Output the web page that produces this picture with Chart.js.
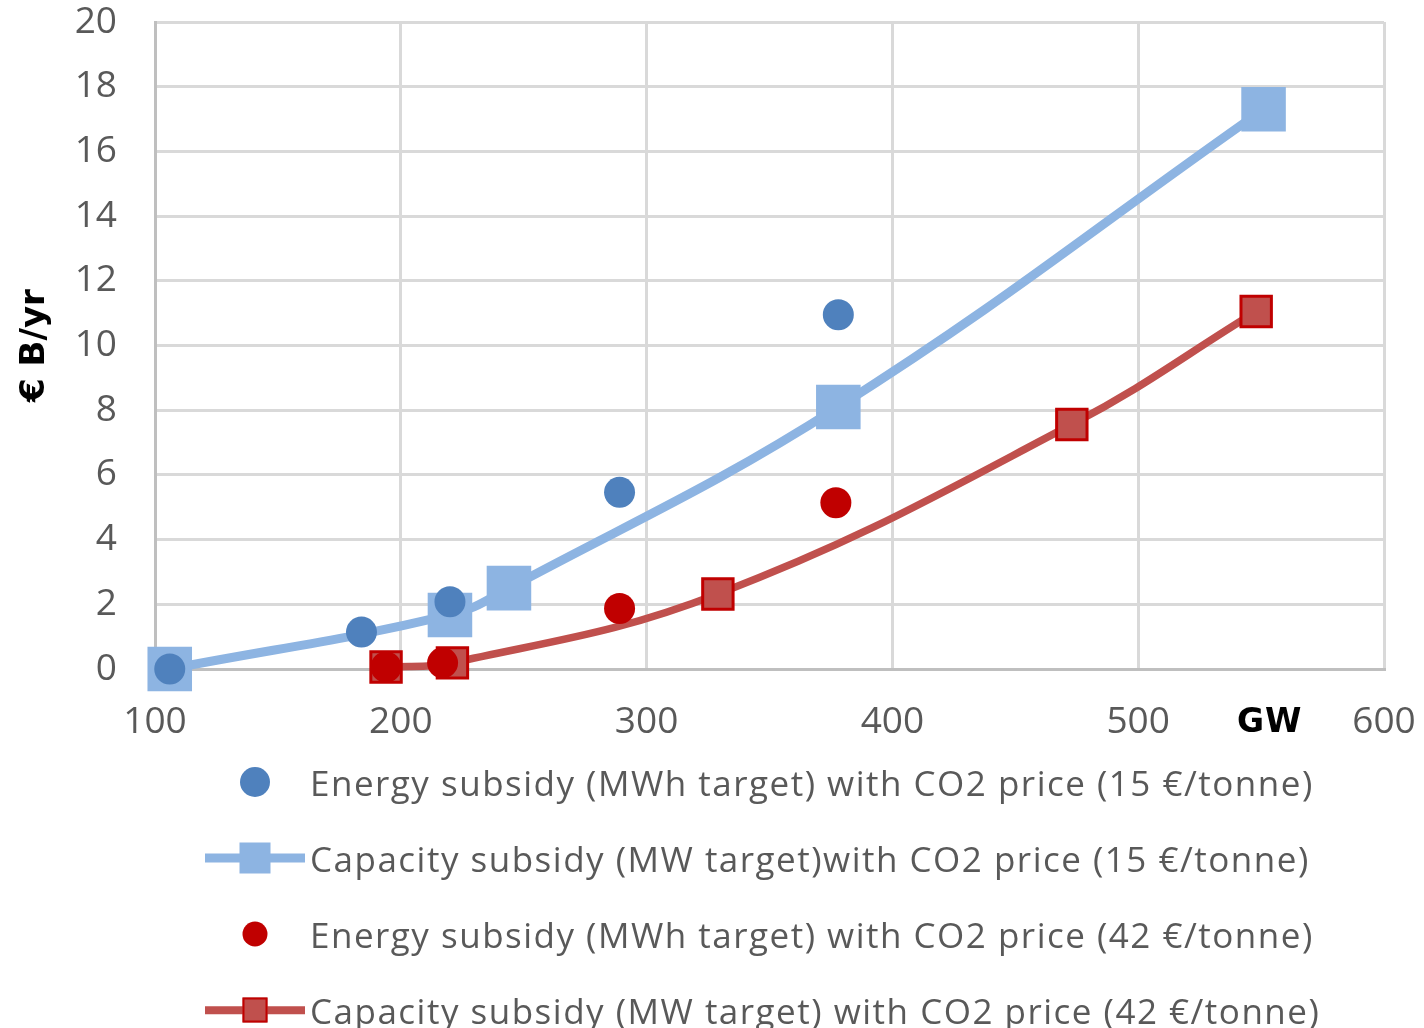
<!DOCTYPE html>
<html>
<head>
<meta charset="utf-8">
<script src="https://cdn.jsdelivr.net/npm/chart.js@4.4.0/dist/chart.umd.min.js"></script>
<style>
  html, body { margin: 0; padding: 0; background: #ffffff; }
  #page { position: relative; width: 1424px; height: 1028px; overflow: hidden; background: #fff; }
  #chartBox { position: absolute; left: 0; top: 0; width: 1424px; height: 745px; }
  #unit { position: absolute; left: 1237px; top: 701px; font: bold 33px "DejaVu Sans", sans-serif;
          letter-spacing: 1px; color: #000; }
  #legend { position: absolute; left: 0; top: 744px; width: 1424px; }
  .row { position: relative; height: 76px; }
  .mark { position: absolute; left: 205px; top: 0; width: 100px; height: 76px; }
  .mark .ln { position: absolute; left: 0; width: 100px; top: 50%; transform: translateY(-50%); }
  .mark .pt { position: absolute; left: 50%; top: 50%; transform: translate(-50%, -50%); box-sizing: border-box; }
  .txt { position: absolute; left: 310px; top: 50%; transform: translateY(-50%);
         font: 35px "Open Sans", sans-serif; color: #595959; white-space: nowrap; letter-spacing: 1.5px; }
</style>
</head>
<body>
<div id="page">
  <div id="chartBox"><canvas id="c" width="1424" height="745"></canvas></div>
  <div id="unit">GW</div>
  <div id="legend"></div>
</div>
<script>
// Installed capacity (GW) and annual cost (€ billion per year) for each scenario
const energy15X   = [106, 184, 220, 289, 378];
const energy15Y   = [0, 1.14, 2.08, 5.46, 10.95];
const capacity15X = [106, 220, 244, 378, 551];
const capacity15Y = [0, 1.67, 2.5, 8.1, 17.3];
const energy42X   = [194, 217, 289, 377];
const energy42Y   = [0.06, 0.19, 1.87, 5.14];
const capacity42X = [194, 221, 329, 473, 548];
const capacity42Y = [0.06, 0.19, 2.32, 7.56, 11.05];

const seriesLabels = [
  'Energy subsidy (MWh target) with CO2 price (15 €/tonne)',
  'Capacity subsidy (MW target)with CO2 price (15 €/tonne)',
  'Energy subsidy (MWh target) with CO2 price (42 €/tonne)',
  'Capacity subsidy (MW target) with CO2 price (42 €/tonne)'
];

const xTicks = [100, 200, 300, 400, 500, 600];
const yTicks = [0, 2, 4, 6, 8, 10, 12, 14, 16, 18, 20];

const toPoints = (xs, ys) => xs.map((x, i) => ({ x: x, y: ys[i] }));

const BLUE = '#4F81BD', LIGHT_BLUE = '#8DB4E2', RED = '#C00000', BRICK = '#C0504D';

const datasets = [
  { label: seriesLabels[0], data: toPoints(energy15X, energy15Y), showLine: false,
    pointStyle: 'circle', pointRadius: 15.5, pointBackgroundColor: BLUE, pointBorderWidth: 0,
    borderColor: BLUE, backgroundColor: BLUE, order: 0, clip: false,
    legendMark: { line: false, size: 30, round: true } },
  { label: seriesLabels[1], data: toPoints(capacity15X, capacity15Y), showLine: true,
    borderColor: LIGHT_BLUE, borderWidth: 9, tension: 0.4,
    pointStyle: 'rect', pointRadius: 31.5, pointBackgroundColor: LIGHT_BLUE, pointBorderWidth: 0,
    backgroundColor: LIGHT_BLUE, order: 1, clip: false,
    legendMark: { line: true, size: 31, round: false } },
  { label: seriesLabels[2], data: toPoints(energy42X, energy42Y), showLine: false,
    pointStyle: 'circle', pointRadius: 15.5, pointBackgroundColor: RED, pointBorderWidth: 0,
    borderColor: RED, backgroundColor: RED, order: 0, clip: false,
    legendMark: { line: false, size: 25, round: true } },
  { label: seriesLabels[3], data: toPoints(capacity42X, capacity42Y), showLine: true,
    borderColor: BRICK, borderWidth: 7.5, tension: 0.4,
    pointStyle: 'rect', pointRadius: 21.5, pointBackgroundColor: BRICK,
    pointBorderColor: RED, pointBorderWidth: 3,
    backgroundColor: BRICK, order: 1, clip: false,
    legendMark: { line: true, size: 25, round: false, border: RED } }
];

const tickFont = { family: 'Open Sans', size: 37 };

new Chart(document.getElementById('c'), {
  type: 'scatter',
  data: { datasets: datasets },
  options: {
    responsive: false,
    devicePixelRatio: 1,
    animation: false,
    events: [],
    layout: { autoPadding: false, padding: { top: 22, right: 40, bottom: 0, left: 0 } },
    plugins: { legend: { display: false }, tooltip: { enabled: false } },
    scales: {
      x: {
        type: 'linear', min: 100, max: 600,
        afterBuildTicks: (s) => { s.ticks = xTicks.map(v => ({ value: v })); },
        afterFit: (s) => { s.height = 76; s.paddingLeft = 0; s.paddingRight = 0; },
        grid: { color: '#D9D9D9', lineWidth: 3, drawTicks: false },
        border: { display: true, color: '#BFBFBF', width: 3 },
        ticks: { font: tickFont, color: '#595959', padding: 31, maxRotation: 0 }
      },
      y: {
        type: 'linear', min: 0, max: 20,
        afterBuildTicks: (s) => { s.ticks = yTicks.map(v => ({ value: v })); },
        afterFit: (s) => { s.width = 155; s.paddingTop = 0; s.paddingBottom = 0; },
        grid: { color: '#D9D9D9', lineWidth: 3, drawTicks: false },
        border: { display: true, color: '#BFBFBF', width: 3 },
        ticks: { font: tickFont, color: '#595959', padding: 38 },
        title: { display: true, text: '€ B/yr', color: '#000000',
                 font: { family: 'DejaVu Sans', size: 34, weight: 'bold' },
                 padding: { top: 15, bottom: 0 } }
      }
    }
  }
});

// Legend rows built from the dataset styles
const legend = document.getElementById('legend');
datasets.forEach((ds) => {
  const row = document.createElement('div');
  row.className = 'row';
  const mark = document.createElement('div');
  mark.className = 'mark';
  const m = ds.legendMark;
  if (m.line) {
    const ln = document.createElement('div');
    ln.className = 'ln';
    ln.style.height = ds.borderWidth + 'px';
    ln.style.background = ds.borderColor;
    mark.appendChild(ln);
  }
  const pt = document.createElement('div');
  pt.className = 'pt';
  pt.style.width = m.size + 'px';
  pt.style.height = m.size + 'px';
  pt.style.background = ds.pointBackgroundColor;
  if (m.round) pt.style.borderRadius = '50%';
  if (m.border) pt.style.border = '2px solid ' + m.border;
  mark.appendChild(pt);
  const txt = document.createElement('div');
  txt.className = 'txt';
  txt.textContent = ds.label;
  row.appendChild(mark);
  row.appendChild(txt);
  legend.appendChild(row);
});
</script>
</body>
</html>
